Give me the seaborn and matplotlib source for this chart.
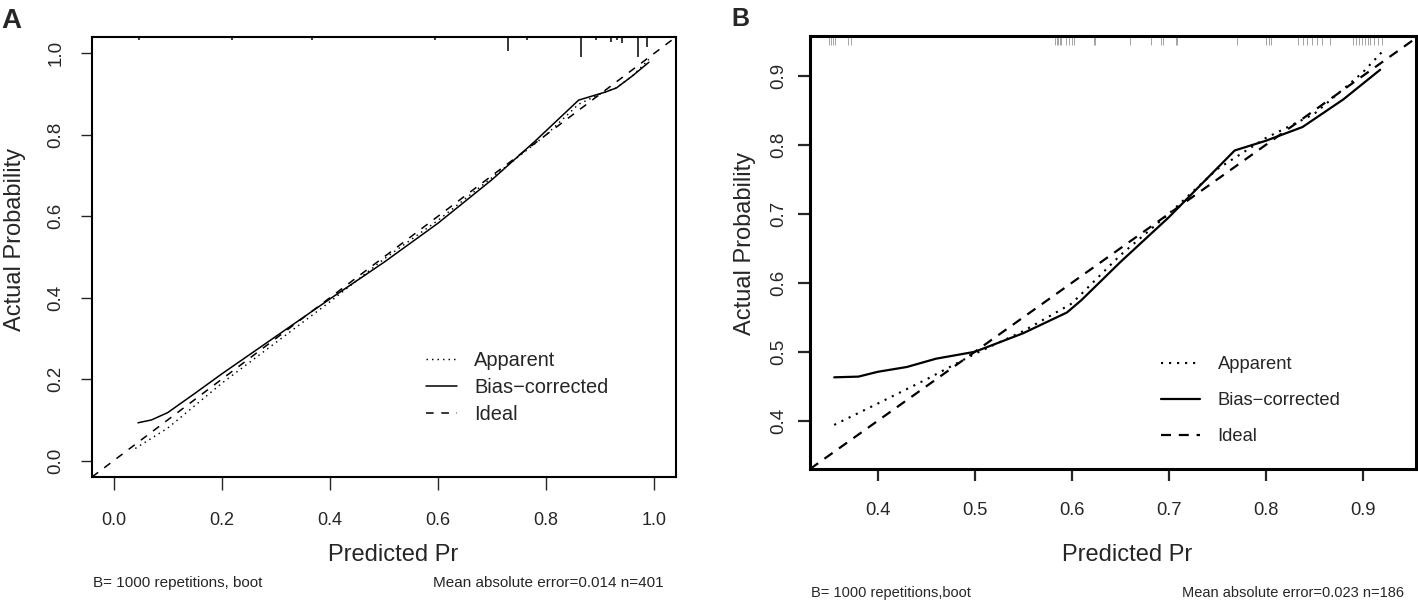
import numpy as np
import pandas as pd
import matplotlib
matplotlib.use("Agg")
import matplotlib.pyplot as plt
from matplotlib import font_manager
import seaborn as sns

# ---- data ----
# panel A  (n = 401)
a_app_x = [0.04, 0.10, 0.20, 0.30, 0.40, 0.50, 0.60, 0.70, 0.80, 0.86, 0.90, 0.93, 0.96, 0.99]
a_app_y = [0.03, 0.08, 0.19, 0.29, 0.39, 0.495, 0.59, 0.695, 0.80, 0.875, 0.90, 0.915, 0.945, 0.985]
a_bias_x = [0.045, 0.07, 0.10, 0.15, 0.20, 0.30, 0.40, 0.50, 0.60, 0.70, 0.78, 0.86, 0.88, 0.91, 0.93, 0.96, 0.99]
a_bias_y = [0.093, 0.10, 0.118, 0.165, 0.213, 0.305, 0.397, 0.487, 0.583, 0.69, 0.785, 0.885, 0.893, 0.905, 0.915, 0.945, 0.978]
a_rug_x = [0.046, 0.218, 0.367, 0.595, 0.730, 0.765, 0.865, 0.893, 0.920, 0.931, 0.941, 0.969, 0.987]
a_rug_freq = [0.15, 0.15, 0.15, 0.15, 0.70, 0.15, 1.00, 0.15, 0.25, 0.15, 0.30, 1.00, 0.50]
a_ticks = [0.0, 0.2, 0.4, 0.6, 0.8, 1.0]
a_lim = [-0.04, 1.04]
a_note_left = "B= 1000 repetitions, boot"
a_note_right = "Mean absolute error=0.014 n=401"

# panel B  (n = 186)
b_app_x = [0.355, 0.40, 0.45, 0.50, 0.55, 0.60, 0.65, 0.70, 0.75, 0.80, 0.85, 0.90, 0.92]
b_app_y = [0.394, 0.425, 0.46, 0.497, 0.53, 0.57, 0.64, 0.70, 0.765, 0.81, 0.845, 0.905, 0.935]
b_bias_x = [0.355, 0.38, 0.40, 0.43, 0.46, 0.50, 0.55, 0.595, 0.61, 0.65, 0.70, 0.768, 0.80, 0.838, 0.88, 0.918]
b_bias_y = [0.463, 0.464, 0.471, 0.478, 0.49, 0.50, 0.527, 0.557, 0.575, 0.63, 0.695, 0.792, 0.806, 0.826, 0.866, 0.909]
b_rug_x = [0.350, 0.352, 0.354, 0.356, 0.369, 0.372,
           0.583, 0.585, 0.586, 0.588, 0.589, 0.594, 0.597, 0.600, 0.602, 0.623, 0.624,
           0.660, 0.682, 0.692, 0.694, 0.707, 0.709, 0.770, 0.800, 0.803, 0.805,
           0.833, 0.838, 0.843, 0.848, 0.853, 0.858, 0.866,
           0.890, 0.893, 0.896, 0.899, 0.902, 0.905, 0.908, 0.912, 0.916, 0.920]
b_ticks = [0.4, 0.5, 0.6, 0.7, 0.8, 0.9]
b_xlim = [0.33, 0.955]
b_ylim = [0.33, 0.958]
b_note_left = "B= 1000 repetitions,boot"
b_note_right = "Mean absolute error=0.023 n=186"

LEGEND_LABELS = ["Apparent", "Bias\u2212corrected", "Ideal"]

sns.set_style("white")
plt.rcParams["font.family"] = ["Liberation Sans", "DejaVu Sans"]


def _weight(w):
    if isinstance(w, (int, float)):
        return int(w)
    return {"light": 300, "normal": 400, "regular": 400, "book": 400,
            "medium": 500}.get(str(w).lower(), 700)


# panel B text is set in a condensed face in the reference; use a non-bold one if installed
narrow_names = ["Liberation Sans Narrow", "DejaVu Sans Condensed", "Open Sans Condensed"]
found = [(f.name, _weight(f.weight)) for f in font_manager.fontManager.ttflist
         if f.name in narrow_names and _weight(f.weight) <= 500 and f.style == "normal"]
if found:
    found.sort(key=lambda t: (narrow_names.index(t[0]), abs(t[1] - 400)))
    NARROW = dict(family=[found[0][0], "DejaVu Sans"], weight=found[0][1])
    shrink = 1.0
else:
    NARROW = dict(family=["Liberation Sans", "DejaVu Sans"], weight="normal")
    shrink = 0.88

fig = plt.figure(figsize=(14.18, 6.03), dpi=100)
ax_a = fig.add_axes([0.0649, 0.2090, 0.4118, 0.7297])
ax_b = fig.add_axes([0.5712, 0.2222, 0.4274, 0.7181])


def draw_panel(ax, app_x, app_y, bias_x, bias_y, lw, dash_on, dash_off):
    sns.lineplot(x=app_x, y=app_y, ax=ax, color="black", lw=lw * 0.95,
                 estimator=None, sort=False, label=LEGEND_LABELS[0]).lines[-1].set_dashes((1, 2.8))
    sns.lineplot(x=bias_x, y=bias_y, ax=ax, color="black", lw=lw,
                 estimator=None, sort=False, label=LEGEND_LABELS[1])
    ax.axline((0.5, 0.5), slope=1, color="black", lw=lw,
              dashes=(dash_on, dash_off), label=LEGEND_LABELS[2])


# ---- panel A ----
draw_panel(ax_a, a_app_x, a_app_y, a_bias_x, a_bias_y, 1.1, 5, 5)
ax_a.vlines(a_rug_x, 1 - np.array(a_rug_freq) * 0.046, 1, color="black", lw=1.1,
            transform=ax_a.get_xaxis_transform())
ax_a.set_xlim(a_lim)
ax_a.set_ylim(a_lim)
ax_a.set_xticks(a_ticks)
ax_a.set_xticklabels([f"{t:.1f}" for t in a_ticks], fontsize=13)
ax_a.set_yticks(a_ticks)
ax_a.set_yticklabels([f"{t:.1f}" for t in a_ticks], fontsize=13.5, rotation=90, va="center")
ax_a.tick_params(axis="x", direction="out", length=9.5, width=1.0, pad=15.5, bottom=True)
ax_a.tick_params(axis="y", direction="out", length=8, width=1.0, pad=12, left=True)
for s in ax_a.spines.values():
    s.set_linewidth(1.5)
    s.set_color("black")
ax_a.set_xlabel("Predicted Pr", fontsize=17, va="center")
ax_a.xaxis.set_label_coords(0.515, -0.177)
ax_a.set_ylabel("Actual Probability", fontsize=17, va="center")
ax_a.yaxis.set_label_coords(-0.132, 0.539)
ax_a.legend(loc="upper left", bbox_to_anchor=(0.572, 0.287), frameon=False, fontsize=14.4,
            handlelength=1.55, handletextpad=0.85, labelspacing=0.42, borderpad=0, borderaxespad=0)

# ---- panel B ----
draw_panel(ax_b, b_app_x, b_app_y, b_bias_x, b_bias_y, 1.6, 4.5, 3.5)
ax_b.vlines(b_rug_x, 1 - 9 / 433, 1, color="#8c8c8c", lw=0.7, alpha=0.8,
            transform=ax_b.get_xaxis_transform())
ax_b.set_xlim(b_xlim)
ax_b.set_ylim(b_ylim)
ax_b.set_xticks(b_ticks)
ax_b.set_xticklabels([f"{t:.1f}" for t in b_ticks], fontsize=15 * shrink, **NARROW)
ax_b.set_yticks(b_ticks)
ax_b.set_yticklabels([f"{t:.1f}" for t in b_ticks], fontsize=13.5, rotation=90, va="center")
ax_b.tick_params(axis="x", direction="out", length=8.5, width=1.6, pad=15, bottom=True)
ax_b.tick_params(axis="y", direction="out", length=8.5, width=1.6, pad=8, left=True)
for s in ax_b.spines.values():
    s.set_linewidth(2.2)
    s.set_color("black")
ax_b.set_xlabel("Predicted Pr", fontsize=17, va="center")
ax_b.xaxis.set_label_coords(0.523, -0.199)
ax_b.set_ylabel("Actual Probability", fontsize=17, va="center")
ax_b.yaxis.set_label_coords(-0.107, 0.522)
ax_b.legend(loc="upper left", bbox_to_anchor=(0.579, 0.2605), frameon=False,
            prop={"family": NARROW["family"], "weight": NARROW["weight"], "size": 15 * shrink},
            handlelength=1.86 / shrink, handletextpad=0.86 / shrink,
            labelspacing=0.91 / shrink, borderpad=0, borderaxespad=0)

# ---- footers and panel letters ----
fig.text(93 / 1418, 1 - 583 / 603, a_note_left, fontsize=11, va="center", ha="left")
fig.text(664 / 1418, 1 - 583 / 603, a_note_right, fontsize=11, va="center", ha="right")
fig.text(811 / 1418, 1 - 593 / 603, b_note_left, fontsize=12 * shrink, va="center", ha="left", **NARROW)
fig.text(1404 / 1418, 1 - 593 / 603, b_note_right, fontsize=12 * shrink, va="center", ha="right", **NARROW)
fig.text(0.001, 0.987, "A", fontsize=20, fontweight="bold", va="top", ha="left")
fig.text(0.516, 0.988, "B", fontsize=18, fontweight="bold", va="top", ha="left")

fig.savefig("out.png", dpi=100)
